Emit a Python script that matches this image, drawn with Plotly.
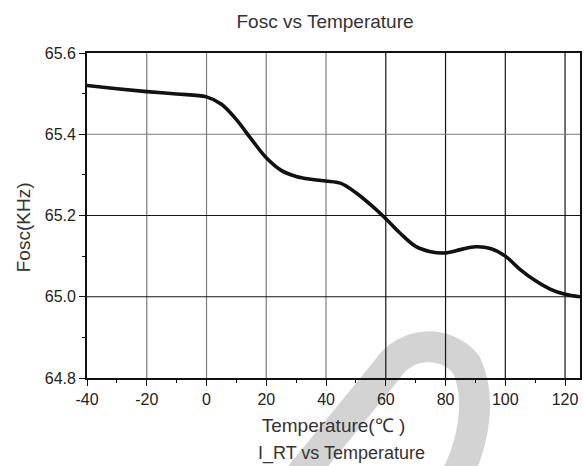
import plotly.graph_objects as go

# Oscillator frequency measured across the temperature sweep
temperature_c = [-40, -30, -20, -10, 0, 5, 10, 15, 20, 25, 30, 35, 40, 45, 50,
                 55, 60, 65, 70, 75, 80, 85, 90, 95, 100, 105, 110, 115, 120, 125]
fosc_khz = [65.520, 65.512, 65.505, 65.499, 65.492, 65.474, 65.436, 65.388,
            65.342, 65.311, 65.296, 65.289, 65.285, 65.279, 65.256, 65.226,
            65.192, 65.155, 65.124, 65.111, 65.108, 65.116, 65.123, 65.119,
            65.100, 65.067, 65.040, 65.019, 65.006, 65.000]

x_ticks = [-40, -20, 0, 20, 40, 60, 80, 100, 120]
y_ticks = [64.8, 65.0, 65.2, 65.4, 65.6]
y_tick_text = ["64.8", "65.0", "65.2", "65.4", "65.6"]

W, H = 584, 466
MARGIN = dict(l=87, r=2, t=53, b=88)
FONT = "Liberation Sans, Arial, sans-serif"


def to_paper(px, py):
    """Convert a figure pixel position to paper coordinates."""
    pw = W - MARGIN["l"] - MARGIN["r"]
    ph = H - MARGIN["t"] - MARGIN["b"]
    return (px - MARGIN["l"]) / pw, (H - MARGIN["b"] - py) / ph


def path_from(points):
    """Build an SVG path in paper coordinates from (command, [(px, py), ...])."""
    parts = []
    for cmd, pts in points:
        coords = " ".join("%.4f,%.4f" % to_paper(*p) for p in pts)
        parts.append(cmd + " " + coords)
    return " ".join(parts)


fig = go.Figure()
fig.add_trace(go.Scatter(
    x=temperature_c, y=fosc_khz, mode="lines",
    line=dict(color="#111111", width=3.6, shape="spline", smoothing=1.0),
    hoverinfo="x+y", showlegend=False,
))

shapes = []
# light grey stamp sitting behind the plot
stamp = path_from([
    ("M", [(296, 482)]),
    ("L", [(388, 370)]),
    ("C", [(408, 340), (448, 340), (468, 365)]),
    ("C", [(482, 395), (478, 440), (455, 482)]),
])
shapes.append(dict(type="path", path=stamp, xref="paper", yref="paper",
                   line=dict(color="#d3d3d3", width=31), layer="below"))

# grid: lighter on the cool side, darker on the hot side
for v in x_ticks[1:]:
    shapes.append(dict(type="line", xref="x", yref="paper", x0=v, x1=v, y0=0, y1=1,
                       line=dict(color="#151515" if v >= 60 else "#7d7d7d", width=1.2),
                       layer="below"))
for v in y_ticks[1:-1]:
    shapes.append(dict(type="line", xref="paper", yref="y", x0=0, x1=1, y0=v, y1=v,
                       line=dict(color="#151515" if v <= 65.2 else "#7d7d7d", width=1.2),
                       layer="below"))

axis_common = dict(
    showgrid=False, zeroline=False, showline=True, mirror=True,
    linecolor="#111111", linewidth=1.8,
    ticks="outside", ticklen=6, tickwidth=1.4, tickcolor="#111111",
    tickfont=dict(family=FONT, size=16, color="#222222"),
)

fig.update_xaxes(
    range=[-40, 125], tickmode="array", tickvals=x_ticks,
    ticktext=[str(v) for v in x_ticks],
    minor=dict(dtick=10, tick0=0, ticks="outside", ticklen=3, tickwidth=1.2,
               tickcolor="#111111", showgrid=False),
    title=dict(text="Temperature(℃ )", font=dict(family=FONT, size=19, color="#333333"),
               standoff=12),
    **axis_common,
)
fig.update_yaxes(
    range=[64.8, 65.6], tickmode="array", tickvals=y_ticks, ticktext=y_tick_text,
    minor=dict(dtick=0.1, tick0=64.8, ticks="outside", ticklen=3, tickwidth=1.2,
               tickcolor="#111111", showgrid=False),
    **axis_common,
)

annotations = [
    dict(text="Fosc(KHz)", textangle=-90, xref="paper", yref="paper",
         x=to_paper(23, 0)[0], y=to_paper(0, 227)[1], xanchor="center", yanchor="middle",
         showarrow=False, font=dict(family=FONT, size=19, color="#333333")),
    dict(text="I_RT vs Temperature", xref="paper", yref="paper",
         x=to_paper(257, 0)[0], y=to_paper(0, 466)[1], xanchor="left", yanchor="bottom",
         showarrow=False, font=dict(family=FONT, size=18, color="#333333")),
]

fig.update_layout(
    width=W, height=H, autosize=False, margin=MARGIN,
    paper_bgcolor="white", plot_bgcolor="white",
    title=dict(text="Fosc vs Temperature", xref="paper", x=to_paper(326, 0)[0],
               xanchor="center", y=1 - 21 / H, yanchor="middle",
               font=dict(family=FONT, size=19, color="#333333")),
    shapes=shapes, annotations=annotations,
)

fig.write_html("out.html")
